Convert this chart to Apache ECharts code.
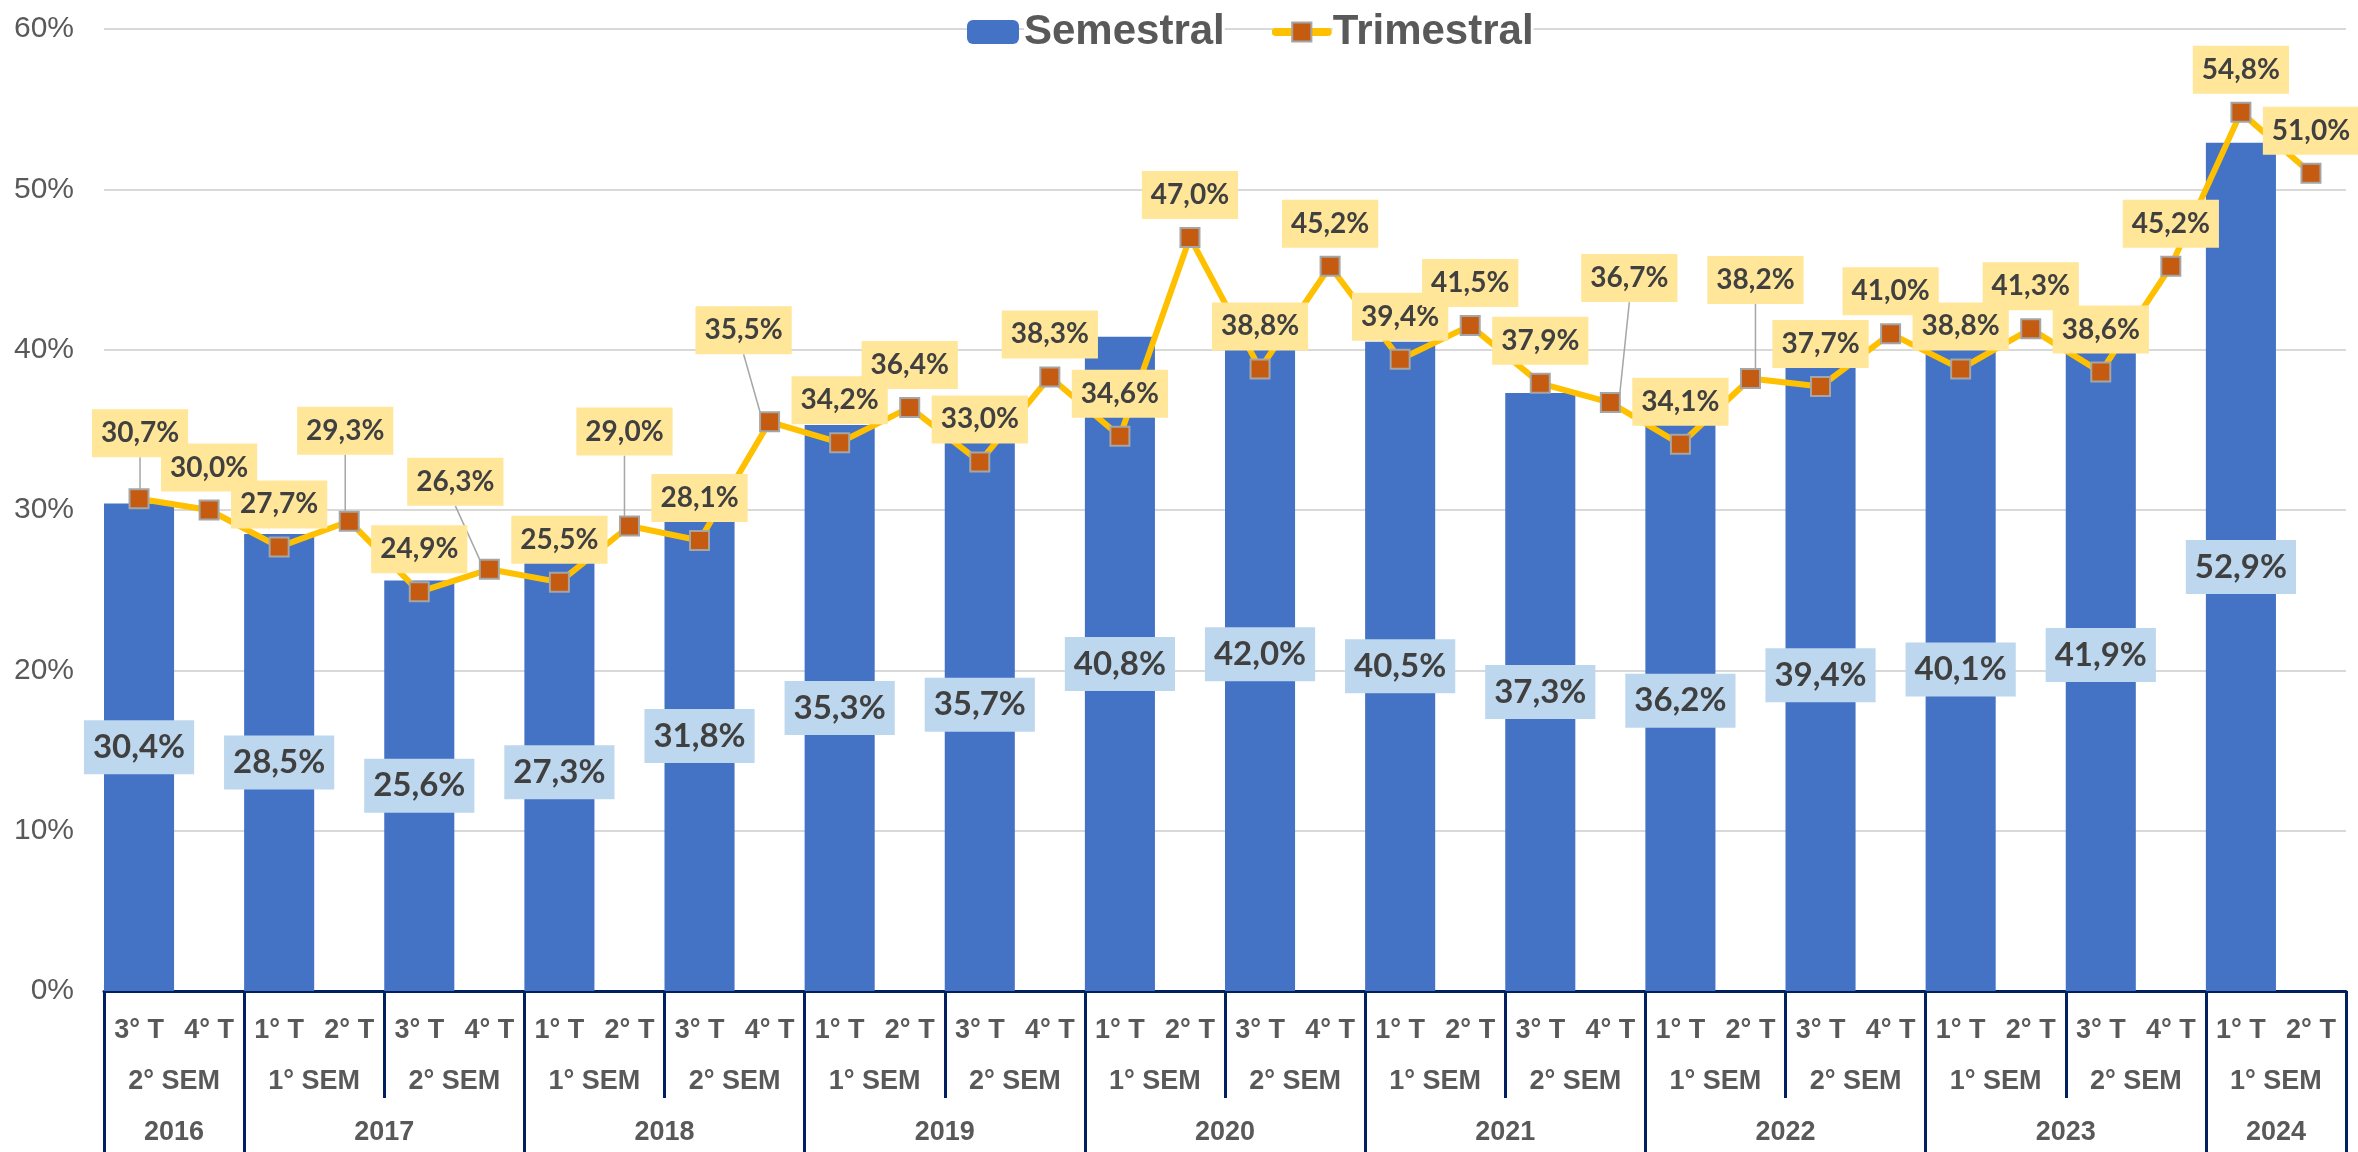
<!DOCTYPE html>
<html>
<head>
<meta charset="utf-8">
<script src="https://cdn.jsdelivr.net/npm/echarts@6/dist/echarts.min.js"></script>
<style>
  html, body { margin: 0; padding: 0; background: #fff; }
  #chart { width: 2358px; height: 1152px; }
</style>
</head>
<body>
<div id="chart"></div>
<script>
// eixo x: trimestres, semestres e anos
const quarters = [
  '3° T', '4° T',
  '1° T', '2° T', '3° T', '4° T',
  '1° T', '2° T', '3° T', '4° T',
  '1° T', '2° T', '3° T', '4° T',
  '1° T', '2° T', '3° T', '4° T',
  '1° T', '2° T', '3° T', '4° T',
  '1° T', '2° T', '3° T', '4° T',
  '1° T', '2° T', '3° T', '4° T',
  '1° T', '2° T'
]
const semesters = [
  '2° SEM',
  '1° SEM', '2° SEM', '1° SEM', '2° SEM', '1° SEM', '2° SEM', '1° SEM', '2° SEM',
  '1° SEM', '2° SEM', '1° SEM', '2° SEM', '1° SEM', '2° SEM',
  '1° SEM'
]
const semesterYears = [
  '2016',
  '2017', '2017', '2018', '2018', '2019', '2019', '2020', '2020',
  '2021', '2021', '2022', '2022', '2023', '2023',
  '2024'
]

// valores (%)
const semestral = [30.4, 28.5, 25.6, 27.3, 31.8, 35.3, 35.7, 40.8, 42.0, 40.5, 37.3, 36.2, 39.4, 40.1, 41.9, 52.9]
const trimestral = [
  30.7, 30.0, 27.7, 29.3, 24.9, 26.3, 25.5, 29.0, 28.1, 35.5, 34.2, 36.4, 33.0, 38.3, 34.6, 47.0,
  38.8, 45.2, 39.4, 41.5, 37.9, 36.7, 34.1, 38.2, 37.7, 41.0, 38.8, 41.3, 38.6, 45.2, 54.8, 51.0
]

// rótulos deslocados (com linha de chamada): índice -> [dx, dy]
const movedLabels = {
  0: [1, -23],
  3: [-4, -48],
  5: [-34, -45],
  7: [-5, -52],
  9: [-26, -49],
  21: [19, -82],
  23: [5, -56]
}

const navy = '#002060'
const grey = '#595959'
const axisFont = '"Liberation Sans", Arial, sans-serif'
const labelFont = 'Lato, "Open Sans", sans-serif'

const fmt = v => v.toFixed(1).replace('.', ',') + '%'

// eixo dos anos: pontos nas fronteiras dos trimestres (0..32)
const yearAxisData = new Array(quarters.length + 1).fill('')
const yearBounds = new Set()
let start = 0
for (let s = 0; s < semesterYears.length; s++) {
  if (s === semesterYears.length - 1 || semesterYears[s + 1] !== semesterYears[s]) {
    const a = start * 2
    const b = (s + 1) * 2
    yearBounds.add(a)
    yearBounds.add(b)
    yearAxisData[(a + b) / 2] = semesterYears[s]
    start = s + 1
  }
}

// barras só no primeiro trimestre de cada semestre
const barData = quarters.map((q, i) => (i % 2 === 0 ? semestral[i / 2] : '-'))
const lineData = trimestral.map((v, i) => (movedLabels[i] ? { value: v, labelLine: { show: true } } : v))

const chart = echarts.init(document.getElementById('chart'))

chart.setOption({
  animation: false,
  backgroundColor: '#fff',

  legend: {
    left: 962,
    top: 6,
    itemWidth: 52,
    itemHeight: 24,
    itemGap: 47,
    textStyle: {
      fontFamily: axisFont,
      fontWeight: 'bold',
      fontSize: 42,
      color: grey,
      backgroundColor: '#fff'
    },
    data: [
      'Semestral',
      { name: 'Trimestral', lineStyle: { width: 8, cap: 'round' } }
    ]
  },

  grid: {
    left: 104,
    right: 12,
    top: 29,
    bottom: 161,
    containLabel: false,
    outerBoundsMode: 'none'
  },

  xAxis: [{
    type: 'category',
    data: quarters,
    position: 'bottom',
    axisLine: { lineStyle: { color: navy, width: 3 } },
    axisTick: { show: false },
    axisLabel: {
      interval: 0,
      margin: 26,
      fontFamily: axisFont,
      fontWeight: 'bold',
      fontSize: 27,
      color: grey
    }
  }, {
    type: 'category',
    data: semesters,
    position: 'bottom',
    axisLine: { show: false },
    axisTick: { show: true, interval: 0, length: 107, lineStyle: { color: navy, width: 3 } },
    axisLabel: {
      interval: 0,
      margin: 77,
      fontFamily: axisFont,
      fontWeight: 'bold',
      fontSize: 27,
      color: grey
    }
  }, {
    type: 'category',
    data: yearAxisData,
    boundaryGap: false,
    position: 'bottom',
    axisLine: { show: false },
    axisTick: {
      show: true,
      interval: i => yearBounds.has(i),
      length: 161,
      lineStyle: { color: navy, width: 3 }
    },
    axisLabel: {
      interval: (i, v) => v !== '',
      margin: 128,
      fontFamily: axisFont,
      fontWeight: 'bold',
      fontSize: 27,
      color: grey
    }
  }],

  yAxis: {
    type: 'value',
    min: 0,
    max: 60,
    interval: 10,
    axisLine: { show: false },
    axisTick: { show: false },
    axisLabel: {
      formatter: '{value}%',
      margin: 30,
      fontFamily: axisFont,
      fontSize: 30,
      color: grey
    },
    splitLine: { lineStyle: { color: '#D9D9D9', width: 2 } }
  },

  series: [{
    name: 'Semestral',
    type: 'bar',
    xAxisIndex: 0,
    barWidth: '100%',
    data: barData,
    itemStyle: { color: '#4472C4' },
    label: {
      show: true,
      position: 'inside',
      formatter: p => fmt(p.value),
      fontFamily: labelFont,
      fontWeight: 'bold',
      fontSize: 33,
      lineHeight: 38,
      height: 38,
      color: '#404040',
      backgroundColor: '#BDD7EE',
      padding: [8, 9]
    }
  }, {
    name: 'Trimestral',
    type: 'line',
    xAxisIndex: 0,
    z: 3,
    data: lineData,
    symbol: 'rect',
    symbolSize: 19,
    lineStyle: { color: '#FFC000', width: 6 },
    itemStyle: { color: '#C55A11', borderColor: '#A5A5A5', borderWidth: 2 },
    label: {
      show: true,
      position: 'top',
      distance: 8,
      formatter: p => fmt(p.value),
      fontFamily: labelFont,
      fontWeight: 'bold',
      fontSize: 28,
      lineHeight: 32,
      height: 32,
      color: '#404040',
      backgroundColor: '#FFE699',
      padding: [8, 9]
    },
    labelLine: {
      show: false,
      lineStyle: { color: '#A6A6A6', width: 1.5 }
    },
    labelLayout: params => {
      const m = movedLabels[params.dataIndex]
      return m ? { dx: m[0], dy: m[1] } : {}
    }
  }]
})
</script>
</body>
</html>
